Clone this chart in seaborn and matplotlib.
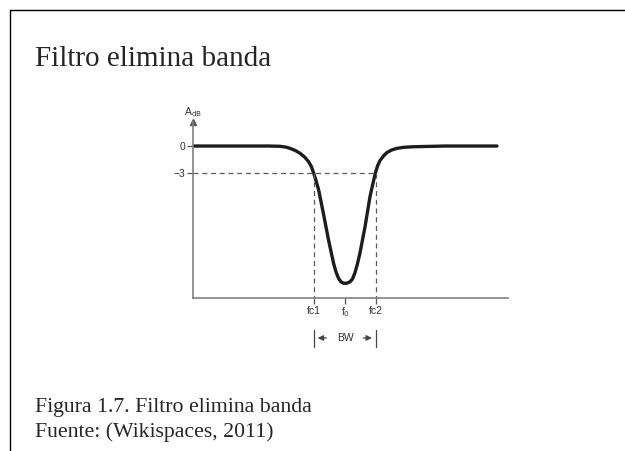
import matplotlib
matplotlib.use("Agg")
import matplotlib.pyplot as plt
from matplotlib.lines import Line2D
import pandas as pd
import seaborn as sns

# Band-stop response (frequency in arbitrary units, gain in dB)
freq = [0.0, 1.5, 2.40, 2.76, 2.95, 3.08, 3.25, 3.40, 3.55, 3.67, 3.76, 3.83,
        3.91, 3.99, 4.14, 4.30, 4.46, 4.54, 4.62, 4.70, 4.78, 4.88, 4.98,
        5.06, 5.14, 5.22, 5.30, 5.46, 5.62, 5.71, 5.79, 5.86, 5.94, 6.05,
        6.15, 6.30, 6.47, 6.70, 7.00, 8.0, 9.65]
gain_db = [0.0, 0.0, 0.0, -0.03, -0.12, -0.26, -0.50, -0.81, -1.25, -1.74,
           -2.30, -3.0, -3.9, -4.9, -7.5, -10.4, -13.0, -14.0, -14.7, -15.1,
           -15.25, -15.25, -15.1, -14.8, -14.1, -13.1, -11.9, -9.0, -5.6,
           -4.2, -3.0, -2.2, -1.6, -1.1, -0.74, -0.45, -0.26, -0.14, -0.08,
           0.0, 0.0]

# Key frequencies and their labels
fc1, f0, fc2 = 3.84, 4.83, 5.80
x_ticks = [fc1, f0, fc2]
x_tick_labels = ["fc1", "f$_0$", "fc2"]
y_ticks = [0, -3]
y_tick_labels = ["0", "\u22123"]
cutoff_db = -3

title = "Filtro elimina banda"
caption = ["Figura 1.7. Filtro elimina banda", "Fuente: (Wikispaces, 2011)"]

sns.set_theme(style="white")
plt.rcParams["font.family"] = ["Liberation Sans", "DejaVu Sans"]

W, H = 625, 451
fig = plt.figure(figsize=(W / 100, H / 100), dpi=100)
fig.patch.set_facecolor("white")

# Slide frame (top and left edges)
fig.add_artist(Line2D([9.5 / W, 1], [1 - 9.5 / H, 1 - 9.5 / H], color="black", lw=1.0))
fig.add_artist(Line2D([9.5 / W, 9.5 / W], [0, 1 - 9.5 / H], color="black", lw=1.0))

serif = ["Liberation Serif", "DejaVu Serif"]
fig.text(35 / W, 1 - 66 / H, title, family=serif, fontsize=21, va="baseline", ha="left")
fig.text(35 / W, 1 - 412 / H, caption[0], family=serif, fontsize=15.7, va="baseline", ha="left")
fig.text(35 / W, 1 - 437 / H, caption[1], family=serif, fontsize=15.7, va="baseline", ha="left")

# Plot area: y axis at x=193 px, x axis at y=298 px
ax = fig.add_axes([193 / W, 1 - 298 / H, 315 / W, 176 / H])
ax.set_facecolor("none")
ymax = 2.67
ymin = -16.89
ax.set_xlim(0, 10)
ax.set_ylim(ymin, ymax)

df = pd.DataFrame({"f": freq, "A": gain_db})
sns.lineplot(data=df, x="f", y="A", ax=ax, color="#1c1c1c", lw=2.4,
             solid_joinstyle="round", solid_capstyle="round")

dash_kw = dict(color="#5a5a5a", lw=0.9, dashes=(4, 3))
ax.plot([0, fc2], [cutoff_db, cutoff_db], clip_on=False, **dash_kw)
ax.plot([fc1, fc1], [cutoff_db, ymin], **dash_kw)
ax.plot([fc2, fc2], [cutoff_db, ymin], **dash_kw)

for side in ["top", "right"]:
    ax.spines[side].set_visible(False)
for side in ["left", "bottom"]:
    ax.spines[side].set_color("#808080")
    ax.spines[side].set_linewidth(1.2)

# Arrowhead on the amplitude axis
ax.plot([0], [ymax], marker="^", color="#555555", ms=4, clip_on=False)
ax.text(0, ymax + 1.1, "A$_{\\mathrm{dB}}$", ha="center", va="center", fontsize=7.5,
        color="#333333")

ax.set_xticks(x_ticks)
ax.set_xticklabels(x_tick_labels)
ax.set_yticks(y_ticks)
ax.set_yticklabels(y_tick_labels)
ax.tick_params(axis="both", direction="out", length=4, width=0.9, color="#555555",
               labelsize=7.5, labelcolor="#333333", pad=1.5,
               bottom=True, left=True)
ax.set_xlabel("")
ax.set_ylabel("")

# Bandwidth marker below the axis
y_bw = (146 - 338) / 9
bar_top, bar_bot = (146 - 330) / 9, (146 - 347) / 9
for xb in (fc1, fc2):
    ax.plot([xb, xb], [bar_top, bar_bot], color="#444444", lw=0.9, clip_on=False)
arrow_kw = dict(arrowstyle="-|>", color="#444444", lw=0.9, mutation_scale=8)
ax.annotate("", xy=(fc1 + 0.03, y_bw), xytext=(fc1 + 0.48, y_bw),
            arrowprops=arrow_kw, annotation_clip=False)
ax.annotate("", xy=(fc2 - 0.03, y_bw), xytext=(fc2 - 0.48, y_bw),
            arrowprops=arrow_kw, annotation_clip=False)
ax.text(f0, y_bw, "BW", ha="center", va="center", fontsize=7.5, color="#333333")

fig.savefig("out.png", dpi=100)
